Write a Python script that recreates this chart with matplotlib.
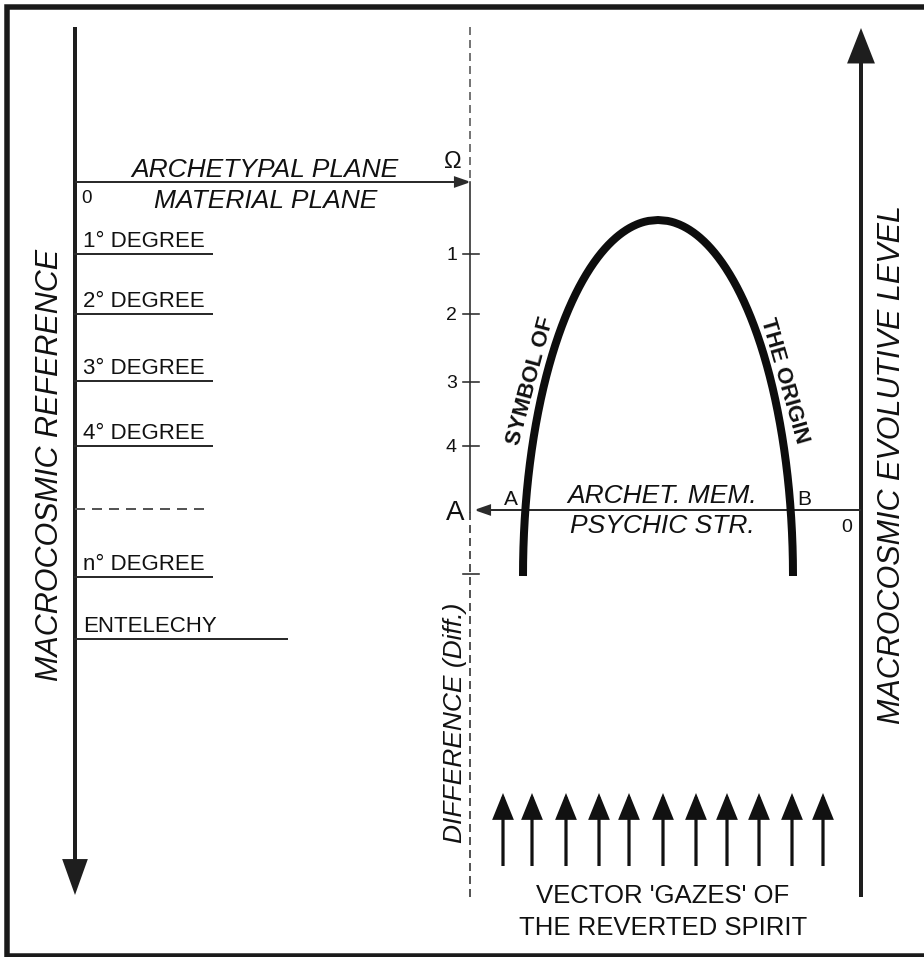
import numpy as np
import matplotlib
matplotlib.use("Agg")
import matplotlib.pyplot as plt
from matplotlib.patches import FancyArrowPatch

plt.rcParams['font.family'] = ['Liberation Sans', 'DejaVu Sans']
plt.rcParams['lines.scale_dashes'] = False

# ---- content ----
degree_labels = ["1° DEGREE", "2° DEGREE", "3° DEGREE", "4° DEGREE", "n° DEGREE", "ENTELECHY"]
degree_levels = [254, 314, 381, 446, 577, 639]
degree_ends = [212, 212, 212, 212, 212, 287]
scale_labels = ["1", "2", "3", "4", ""]
scale_levels = [254, 314, 382, 446, 574]
gaze_x = [503, 532, 566, 599, 629, 663, 696, 727, 759, 792, 823]
left_title = "MACROCOSMIC REFERENCE"
right_title = "MACROCOSMIC EVOLUTIVE LEVEL"
diff_title = "DIFFERENCE (Diff.)"
gaze_lines = ["VECTOR 'GAZES' OF", "THE REVERTED SPIRIT"]
arch_labels = ["SYMBOL OF", "THE ORIGIN"]

INK = '#111111'
LINE = '#2b2b2b'

W, H = 924, 957
fig = plt.figure(figsize=(W / 100, H / 100), dpi=100)
ax = fig.add_axes([0, 0, 1, 1])
ax.set_xlim(0, W)
ax.set_ylim(H, 0)
ax.axis('off')

def px(v):
    return v * 0.72

def arrow(p0, p1, lw, hl, hw, color=LINE):
    a = FancyArrowPatch(p0, p1, arrowstyle=f'-|>,head_length={px(hl)},head_width={px(hw)}',
                        mutation_scale=1, lw=px(lw), color=color, shrinkA=0, shrinkB=0,
                        joinstyle='miter', capstyle='butt')
    ax.add_patch(a)

# border (open on right)
ax.plot([924, 6.5, 6.5, 924], [6.5, 6.5, 955.5, 955.5], color='#1a1a1a', lw=px(5.5),
        solid_joinstyle='miter', solid_capstyle='butt')

# left main axis (down)
LX = 75
arrow((LX, 27), (LX, 895), 4, 28, 10, color='#1e1e1e')
# right main axis (up)
RX = 861
arrow((RX, 897), (RX, 28), 4, 28, 11, color='#1e1e1e')

# archetypal / material plane arrow
arrow((LX, 182), (471, 182), 2, 13, 4.5)
ax.text(265, 177, "ARCHETYPAL PLANE", fontsize=19, style='italic', ha='center', va='baseline', color=INK)
ax.text(266, 208, "MATERIAL PLANE", fontsize=19, style='italic', ha='center', va='baseline', color=INK)
ax.text(86, 203, "0", fontsize=13.5, ha='center', va='baseline', color=INK)
ax.text(453, 168, "Ω", fontsize=17, ha='center', va='baseline', color=INK)

# degree lines
for lab, lev, end in zip(degree_labels, degree_levels, degree_ends):
    ax.plot([LX, end], [lev, lev], color=LINE, lw=px(2))
    ax.text(83, lev - 7, lab, fontsize=16, ha='left', va='baseline', color=INK)
ax.plot([LX, 210], [509, 509], color='#555555', lw=px(2), ls=(0, (px(10), px(7))))

# central line
CX = 470
ax.plot([CX, CX], [27, 182], color='#555555', lw=px(1.6), ls=(0, (px(8), px(5))))
ax.plot([CX, CX], [182, 512], color=LINE, lw=px(1.6))
ax.plot([CX, CX], [512, 897], color='#444444', lw=px(1.8), ls=(0, (px(8), px(5))))
for lab, lev in zip(scale_labels, scale_levels):
    ax.plot([463, 479], [lev, lev], color=LINE, lw=px(1.6))
    if lab:
        ax.text(457, lev + 6.5, lab, fontsize=14, ha='right', va='baseline', color=INK)
ax.text(455, 520, "A", fontsize=20, ha='center', va='baseline', color=INK)

# psychic structure arrow
arrow((RX, 510), (474, 510), 2, 13, 4.5)
ax.text(511, 505, "A", fontsize=15, ha='center', va='baseline', color=INK)
ax.text(804, 505, "B", fontsize=15, ha='center', va='baseline', color=INK)
ax.text(662, 503, "ARCHET. MEM.", fontsize=19, style='italic', ha='center', va='baseline', color=INK)
ax.text(662, 533, "PSYCHIC STR.", fontsize=19, style='italic', ha='center', va='baseline', color=INK)
ax.text(847, 532, "0", fontsize=14, ha='center', va='baseline', color=INK)

# arch (symbol of the origin)
arch_cx, arch_top, arch_bottom, arch_half, arch_exp = 658, 220, 576, 135, 2.0
depth = arch_bottom - arch_top
s = np.linspace(0, 1, 400)
dy = depth * s
hw = arch_half * np.sqrt(np.clip(1 - ((depth - dy) / depth) ** arch_exp, 0, None))
ys = arch_top + dy
ax.plot(np.concatenate([(arch_cx - hw)[::-1], arch_cx + hw]), np.concatenate([ys[::-1], ys]),
        color='#0d0d0d', lw=px(8), solid_capstyle='butt', solid_joinstyle='round')
ax.text(531, 381, arch_labels[0], fontsize=16, fontweight='bold', rotation=75,
        rotation_mode='anchor', ha='center', va='center', color=INK)
ax.text(784, 381, arch_labels[1], fontsize=16, fontweight='bold', rotation=-74,
        rotation_mode='anchor', ha='center', va='center', color=INK)

# vertical titles
ax.text(58, 465, left_title, fontsize=22, style='italic', rotation=90,
        rotation_mode='anchor', ha='center', va='baseline', color=INK)
ax.text(900, 465, right_title, fontsize=22, style='italic', rotation=90,
        rotation_mode='anchor', ha='center', va='baseline', color=INK)
ax.text(462, 723, diff_title, fontsize=19, style='italic', rotation=90,
        rotation_mode='anchor', ha='center', va='baseline', color=INK)

# gazes
for gx in gaze_x:
    arrow((gx, 866), (gx, 793), 3.2, 21, 8.5, color='#111111')
ax.text(663, 903, gaze_lines[0], fontsize=18.5, ha='center', va='baseline', color=INK)
ax.text(663, 935, gaze_lines[1], fontsize=18.5, ha='center', va='baseline', color=INK)

fig.savefig('out.png', dpi=100)
